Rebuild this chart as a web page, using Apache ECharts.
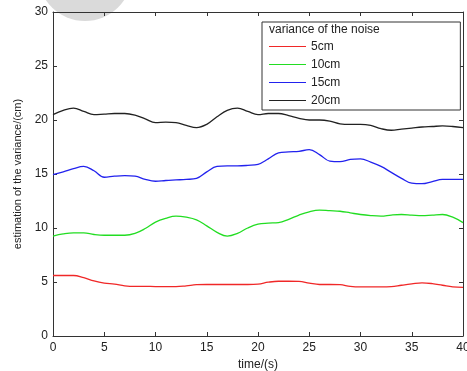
<!DOCTYPE html>
<html>
<head>
<meta charset="utf-8">
<script src="https://cdn.jsdelivr.net/npm/echarts@6/dist/echarts.min.js"></script>
<style>
  html, body { margin: 0; padding: 0; background: #fff; }
  #chart { width: 467px; height: 371px; }
</style>
</head>
<body>
<div id="chart"></div>
<script>
// time axis, one sample per second
const times = [0,1,2,3,4,5,6,7,8,9,10,11,12,13,14,15,16,17,18,19,20,
  21,22,23,24,25,26,27,28,29,30,31,32,33,34,35,36,37,38,39,40];

const xTicks = [0, 5, 10, 15, 20, 25, 30, 35, 40];
const yTicks = [0, 5, 10, 15, 20, 25, 30];

const legendNames = ['5cm', '10cm', '15cm', '20cm'];

const noise5 = [5.6,5.6,5.6,5.4,5.1,4.9,4.8,4.65,4.6,4.6,4.58,4.58,4.58,4.65,4.75,4.77,4.77,4.77,4.77,4.77,
  4.8,4.98,5.07,5.07,5.06,4.9,4.77,4.77,4.75,4.6,4.55,4.55,4.55,4.57,4.7,4.82,4.92,4.85,4.7,4.55,4.5];

const noise10 = [9.25,9.45,9.55,9.55,9.4,9.33,9.33,9.33,9.5,9.95,10.55,10.9,11.1,11.0,10.75,10.2,9.6,9.25,9.5,10.0,
  10.35,10.45,10.5,10.8,11.2,11.5,11.65,11.6,11.55,11.4,11.25,11.15,11.1,11.2,11.25,11.2,11.15,11.2,11.25,11.0,10.5];

const noise15 = [14.95,15.2,15.5,15.7,15.3,14.7,14.8,14.85,14.8,14.5,14.33,14.4,14.45,14.5,14.6,15.2,15.7,15.75,15.75,15.8,
  15.9,16.4,16.95,17.05,17.1,17.25,16.8,16.2,16.15,16.35,16.4,16.1,15.7,15.15,14.6,14.15,14.1,14.3,14.5,14.5,14.5];

const noise20 = [20.5,20.9,21.1,20.8,20.5,20.55,20.6,20.6,20.45,20.1,19.75,19.8,19.75,19.5,19.3,19.6,20.3,20.9,21.1,20.8,
  20.5,20.6,20.6,20.4,20.15,20.0,20.0,19.9,19.65,19.6,19.6,19.5,19.2,19.05,19.15,19.25,19.35,19.4,19.45,19.4,19.3];

const seriesValues = [noise5, noise10, noise15, noise20];
const colors = ['#f02828', '#22dd22', '#2222ee', '#222222'];

const chart = echarts.init(document.getElementById('chart'));

const font = 'Liberation Sans, Arial, sans-serif';
const axisCommon = {
  axisLine: { show: true, onZero: false, lineStyle: { color: '#333', width: 1 } },
  axisTick: { show: true, inside: true, length: 4, lineStyle: { color: '#333' } },
  splitLine: { show: false }
};

const option = {
  animation: false,
  backgroundColor: '#fff',
  textStyle: { fontFamily: font },
  graphic: [{
    type: 'circle',
    z: -10,
    shape: { cx: 85, cy: -26, r: 47 },
    style: { fill: '#dadada' }
  }, {
    // legend title sits inside the legend box
    type: 'text',
    left: 269,
    top: 24,
    z: 100,
    style: { text: 'variance of the noise', font: '12px ' + font, fill: '#222' }
  }],
  grid: [{ left: 53, top: 12, right: 4, bottom: 35, containLabel: false, outerBoundsMode: 'none' }],
  legend: {
    data: legendNames,
    orient: 'vertical',
    left: 262,
    top: 22,
    width: 198,
    height: 88,
    padding: [18, 120, 3, 7],
    itemGap: 5,
    itemWidth: 37,
    itemHeight: 13,
    icon: 'path://M0,6 L37,6 L37,7 L0,7 Z',
    backgroundColor: '#fff',
    borderColor: '#333',
    borderWidth: 1,
    textStyle: { fontSize: 12, color: '#222', fontFamily: font, padding: [0, 0, 0, 0], lineHeight: 13 }
  },
  xAxis: [{
    type: 'value', min: 0, max: 40, interval: 5,
    name: 'time/(s)', nameLocation: 'middle', nameGap: 20,
    nameTextStyle: { fontSize: 12, color: '#222' },
    axisLabel: { fontSize: 12, color: '#222', margin: 6 },
    ...axisCommon
  }, {
    type: 'value', min: 0, max: 40, interval: 5, position: 'top',
    axisLabel: { show: false },
    ...axisCommon
  }],
  yAxis: [{
    type: 'value', min: 0, max: 30, interval: 5,
    name: 'estimation of the variance/(cm)', nameLocation: 'middle', nameGap: 30,
    nameTextStyle: { fontSize: 11, color: '#222' },
    axisLabel: { fontSize: 12, color: '#222', margin: 5 },
    ...axisCommon
  }, {
    type: 'value', min: 0, max: 30, interval: 5, position: 'right',
    axisLabel: { show: false },
    ...axisCommon
  }],
  series: legendNames.map((name, i) => ({
    name: name,
    type: 'line',
    data: times.map((t, k) => [t, seriesValues[i][k]]),
    smooth: 0.4,
    showSymbol: false,
    lineStyle: { color: colors[i], width: 1.3 },
    itemStyle: { color: colors[i] }
  }))
};

chart.setOption(option);
</script>
</body>
</html>
